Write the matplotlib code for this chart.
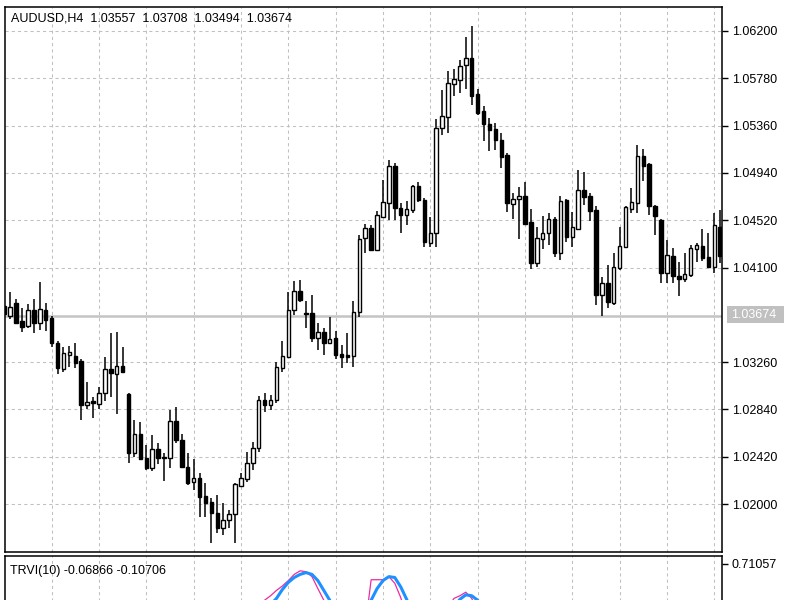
import numpy as np
import matplotlib
matplotlib.use('Agg')
import matplotlib.pyplot as plt
from matplotlib.patches import Rectangle

plt.rcParams['font.family'] = ['Liberation Sans', 'DejaVu Sans']

# AUDUSD H4 bars, oldest first
opens = [
    1.03760, 1.03671, 1.03786, 1.03627, 1.03582, 1.03724, 1.03609, 1.03724, 1.03653, 1.03431,
    1.03201, 1.03325, 1.03316, 1.03272, 1.02881, 1.02917, 1.02890, 1.02988, 1.03201, 1.03156,
    1.03227, 1.02979, 1.02455, 1.02624, 1.02411, 1.02322, 1.02491, 1.02411, 1.02411, 1.02739,
    1.02571, 1.02331, 1.02198, 1.02233, 1.02074, 1.02020, 1.01923, 1.01790, 1.01861, 1.01914,
    1.02162, 1.02224, 1.02367, 1.02500, 1.02926, 1.02881, 1.02926, 1.03210, 1.03307, 1.03724,
    1.03893, 1.03698, 1.03698, 1.03476, 1.03529, 1.03431, 1.03476, 1.03334, 1.03325, 1.03316,
    1.03707, 1.04363, 1.04452, 1.04257, 1.04550, 1.04674, 1.05002, 1.04629, 1.04567, 1.04612,
    1.04825, 1.04700, 1.04319, 1.04408, 1.05339, 1.05437, 1.05730, 1.05765, 1.05898, 1.05960,
    1.05641, 1.05490, 1.05375, 1.05330, 1.05233, 1.05100, 1.04665, 1.04709, 1.04736, 1.04505,
    1.04141, 1.04354, 1.04408, 1.04532, 1.04230, 1.04700, 1.04372, 1.04443, 1.04789, 1.04736,
    1.04612, 1.03857, 1.03964, 1.03786, 1.04097, 1.04283, 1.04620, 1.04674, 1.05091, 1.05020,
    1.04647, 1.04523, 1.04053, 1.04203, 1.04026, 1.03999, 1.04035, 1.04265, 1.04292, 1.04195,
    1.04106, 1.04461]
highs = [
    1.03786, 1.03884, 1.03822, 1.03742, 1.03777, 1.03822, 1.03973, 1.03786, 1.03671, 1.03449,
    1.03396, 1.03405, 1.03431, 1.03289, 1.03085, 1.02952, 1.03041, 1.03307, 1.03520, 1.03529,
    1.03396, 1.02988, 1.02748, 1.02730, 1.02526, 1.02615, 1.02544, 1.02455, 1.02837, 1.02863,
    1.02624, 1.02455, 1.02402, 1.02278, 1.02189, 1.02056, 1.02082, 1.02012, 1.01949, 1.02189,
    1.02278, 1.02464, 1.02553, 1.02961, 1.02988, 1.02970, 1.03263, 1.03449, 1.03884, 1.03982,
    1.03990, 1.03804, 1.03857, 1.03609, 1.03564, 1.03662, 1.03538, 1.03414, 1.03520, 1.03804,
    1.04390, 1.04487, 1.04478, 1.04603, 1.04878, 1.05055, 1.05029, 1.04674, 1.04691, 1.04833,
    1.04860, 1.04718, 1.04550, 1.05419, 1.05676, 1.05845, 1.05863, 1.05943, 1.06147, 1.06244,
    1.05685, 1.05535, 1.05428, 1.05384, 1.05295, 1.05117, 1.04762, 1.04816, 1.04860, 1.04620,
    1.04461, 1.04558, 1.04585, 1.04550, 1.04736, 1.04709, 1.04594, 1.04967, 1.04949, 1.04762,
    1.04647, 1.04017, 1.04124, 1.04230, 1.04461, 1.04647, 1.04807, 1.05188, 1.05153, 1.05029,
    1.04656, 1.04532, 1.04345, 1.04274, 1.04150, 1.04230, 1.04301, 1.04319, 1.04443, 1.04408,
    1.04585, 1.04612]
lows = [
    1.03653, 1.03644, 1.03600, 1.03529, 1.03564, 1.03520, 1.03547, 1.03538, 1.03396, 1.03156,
    1.03174, 1.03218, 1.03210, 1.02748, 1.02846, 1.02766, 1.02846, 1.02917, 1.02952, 1.02801,
    1.03165, 1.02367, 1.02420, 1.02393, 1.02304, 1.02295, 1.02358, 1.02207, 1.02322, 1.02544,
    1.02322, 1.02171, 1.02127, 1.01887, 1.01887, 1.01657, 1.01745, 1.01728, 1.01790, 1.01657,
    1.02154, 1.02198, 1.02304, 1.02464, 1.02819, 1.02837, 1.02899, 1.03174, 1.03298, 1.03680,
    1.03795, 1.03564, 1.03440, 1.03369, 1.03325, 1.03422, 1.03289, 1.03210, 1.03254, 1.03218,
    1.03662, 1.04230, 1.04248, 1.04248, 1.04541, 1.04523, 1.04523, 1.04408, 1.04478, 1.04585,
    1.04683, 1.04283, 1.04283, 1.04283, 1.05277, 1.05295, 1.05623, 1.05650, 1.05685, 1.05543,
    1.05455, 1.05224, 1.05135, 1.05144, 1.04984, 1.04594, 1.04532, 1.04354, 1.04478, 1.04088,
    1.04106, 1.04265, 1.04301, 1.04195, 1.04168, 1.04328, 1.04283, 1.04434, 1.04656, 1.04514,
    1.03769, 1.03671, 1.03742, 1.03769, 1.04079, 1.04274, 1.04585, 1.04585, 1.04869, 1.04567,
    1.04390, 1.03964, 1.03964, 1.03964, 1.03848, 1.03973, 1.04017, 1.04150, 1.04159, 1.04097,
    1.04053, 1.04141]
closes = [
    1.03689, 1.03751, 1.03609, 1.03573, 1.03724, 1.03609, 1.03733, 1.03635, 1.03431, 1.03210,
    1.03343, 1.03352, 1.03254, 1.02881, 1.02908, 1.02899, 1.02988, 1.03201, 1.03165, 1.03227,
    1.03174, 1.02455, 1.02624, 1.02402, 1.02322, 1.02491, 1.02411, 1.02420, 1.02739, 1.02571,
    1.02331, 1.02189, 1.02233, 1.02065, 1.02012, 1.01923, 1.01790, 1.01861, 1.01914, 1.02180,
    1.02233, 1.02367, 1.02500, 1.02926, 1.02881, 1.02926, 1.03218, 1.03316, 1.03724, 1.03893,
    1.03813, 1.03689, 1.03476, 1.03529, 1.03431, 1.03467, 1.03325, 1.03307, 1.03307, 1.03707,
    1.04354, 1.04452, 1.04257, 1.04567, 1.04683, 1.05002, 1.04629, 1.04567, 1.04620, 1.04825,
    1.04700, 1.04328, 1.04408, 1.05339, 1.05446, 1.05739, 1.05774, 1.05890, 1.05960, 1.05623,
    1.05472, 1.05375, 1.05322, 1.05233, 1.05082, 1.04674, 1.04709, 1.04736, 1.04487, 1.04141,
    1.04363, 1.04408, 1.04532, 1.04230, 1.04691, 1.04372, 1.04461, 1.04789, 1.04727, 1.04603,
    1.03857, 1.03964, 1.03795, 1.04106, 1.04292, 1.04638, 1.04683, 1.05091, 1.05002, 1.04647,
    1.04558, 1.04053, 1.04212, 1.04026, 1.03999, 1.04044, 1.04274, 1.04301, 1.04186, 1.04106,
    1.04478, 1.04203]

bid = 1.03674
price_ticks = [1.02000, 1.02420, 1.02840, 1.03260, 1.04100, 1.04520,
               1.04940, 1.05360, 1.05780, 1.06200]
title = 'AUDUSD,H4  1.03557  1.03708  1.03494  1.03674'

# TRVI(10): only the tops of the lines are visible in the sub window
trvi_label = 'TRVI(10) -0.06866 -0.10706'
trvi_max = 0.71057
main_bars = [list(range(43, 56)), list(range(61, 69)), list(range(75, 81))]
main_vals = [[0.18, 0.30, 0.35, 0.41, 0.46, 0.52, 0.59, 0.63, 0.62, 0.565, 0.43, 0.30, 0.18],
             [0.00, 0.53, 0.53, 0.53, 0.565, 0.49, 0.33, 0.12],
             [0.22, 0.32, 0.35, 0.39, 0.32, 0.18]]
sig_bars = [list(range(44, 57)), list(range(61, 70)), list(range(76, 82))]
sig_vals = [[0.19, 0.25, 0.32, 0.42, 0.50, 0.555, 0.59, 0.61, 0.59, 0.52, 0.41, 0.30, 0.18],
            [0.05, 0.30, 0.43, 0.52, 0.565, 0.555, 0.45, 0.31, 0.15],
            [0.22, 0.31, 0.36, 0.35, 0.30, 0.18]]

W, H = 800, 600


def px(l, t, r, b):
    return [l / W, 1 - b / H, (r - l) / W, (b - t) / H]


fig = plt.figure(figsize=(8, 6), dpi=100)
ax = fig.add_axes(px(5, 7, 722, 552.3))
ax2 = fig.add_axes(px(5, 555.7, 722, 707))

o = np.array(opens); h = np.array(highs); l = np.array(lows); c = np.array(closes)
x = np.arange(len(o))
up = c >= o
ax.vlines(x, l, h, color='black', lw=1.1, zorder=3)
ax.bar(x[up], np.maximum(c[up] - o[up], 0.00002), bottom=o[up], width=0.6,
       color='white', edgecolor='black', lw=1.0, zorder=4)
ax.bar(x[~up], c[~up] - o[~up], bottom=o[~up], width=0.6,
       color='black', edgecolor='black', lw=1.0, zorder=4)
ax.axhline(bid, color='#c4c4c4', lw=1.8, zorder=2)

grid_x = list(range(8, 121, 8))
for a in (ax, ax2):
    a.set_xlim(0.12, 121.3)
    a.set_xticks(grid_x)
    a.yaxis.tick_right()
    a.tick_params(axis='x', length=0, labelbottom=False)
    a.tick_params(axis='y', direction='out', length=4, width=1, labelsize=9, pad=3)
    for s in a.spines.values():
        s.set_linewidth(1.1)
        s.set_color('black')
    a.grid(axis='x', color='#c0c0c0', lw=0.75, ls=(0, (3, 3)), zorder=0)
    a.set_axisbelow(True)

ax.set_ylim(1.015722, 1.064130)
ax.set_yticks(price_ticks)
ax.set_yticklabels(['%.5f' % t for t in price_ticks])
ax.grid(axis='y', color='#c0c0c0', lw=0.75, ls=(0, (3, 3)), zorder=0)

for bars, vals in zip(main_bars, main_vals):
    ax2.plot(bars, vals, color='#ee2ca0', lw=0.9, zorder=3)
for bars, vals in zip(sig_bars, sig_vals):
    ax2.plot(bars, vals, color='#1e90ff', lw=2.2, zorder=4)
ax2.set_ylim(-0.9, 0.8)
ax2.set_yticks([trvi_max])
ax2.set_yticklabels(['%.5f' % trvi_max])

fig.text(11 / W, 1 - 21.7 / H, title, fontsize=9, va='baseline')
fig.text(10 / W, 1 - 574 / H, trvi_label, fontsize=9, va='baseline')

fig.patches.append(Rectangle((727 / W, 1 - 323 / H), 57 / W, 17 / H,
                             transform=fig.transFigure, fc='#c0c0c0', ec='none'))
fig.text(731 / W, 1 - 314.5 / H, '%.5f' % bid, fontsize=9, color='white', va='center')

fig.savefig('out.png', dpi=100)
